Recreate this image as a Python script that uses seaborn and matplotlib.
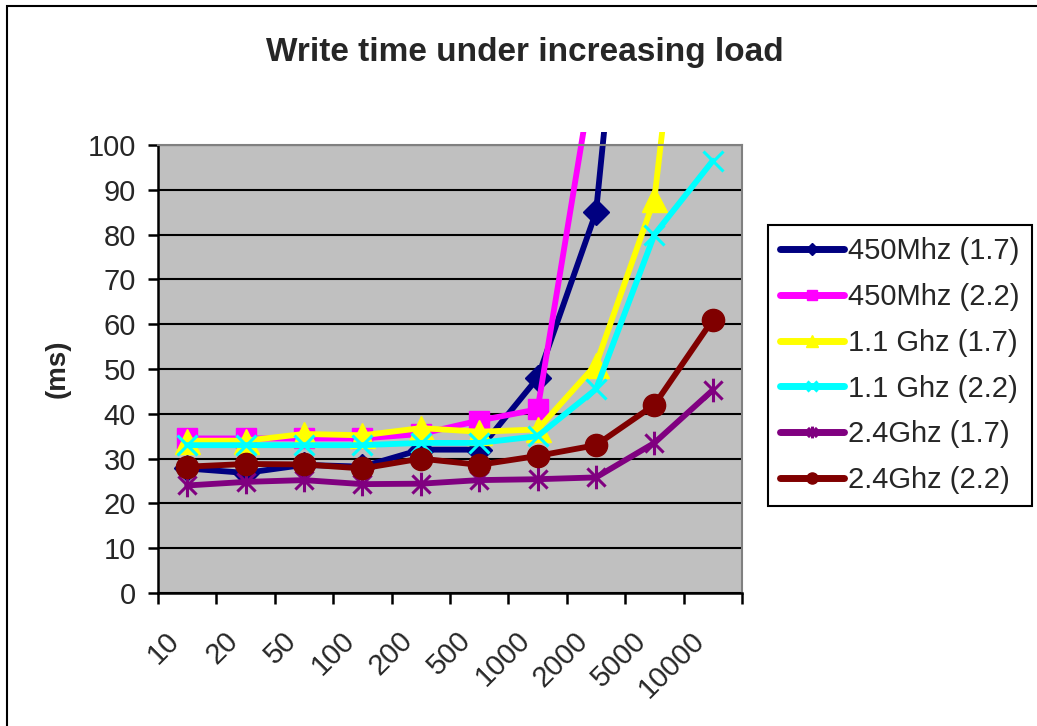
import numpy as np
import pandas as pd
import matplotlib
matplotlib.use("Agg")
import matplotlib.pyplot as plt
from matplotlib.path import Path
from matplotlib.patches import Rectangle
import seaborn as sns

# ---- data ----
categories = ["10", "20", "50", "100", "200", "500", "1000", "2000", "5000", "10000"]
series_names = ["450Mhz (1.7)", "450Mhz (2.2)", "1.1 Ghz (1.7)", "1.1 Ghz (2.2)", "2.4Ghz (1.7)", "2.4Ghz (2.2)"]
mhz450_17 = [27.8, 26.8, 28.6, 28.2, 32.0, 32.0, 48.0, 85.0, 215.0, np.nan]
mhz450_22 = [34.5, 34.5, 34.5, 34.5, 35.5, 38.5, 41.0, 120.0, np.nan, np.nan]
ghz11_17 = [34.0, 34.0, 35.5, 35.2, 36.8, 36.0, 36.5, 51.0, 88.0, 200.0]
ghz11_22 = [33.0, 33.0, 33.0, 33.0, 33.5, 33.5, 35.0, 45.5, 80.0, 96.5]
ghz24_17 = [24.0, 24.8, 25.2, 24.3, 24.4, 25.2, 25.4, 25.8, 33.5, 45.3]
ghz24_22 = [28.2, 28.8, 28.7, 27.8, 30.0, 28.6, 30.6, 33.0, 42.0, 61.0]
y_ticks = [0, 10, 20, 30, 40, 50, 60, 70, 80, 90, 100]

all_values = [mhz450_17, mhz450_22, ghz11_17, ghz11_22, ghz24_17, ghz24_22]
colors = ["#000080", "#FF00FF", "#FFFF00", "#00FFFF", "#800080", "#800000"]

# Excel-like asterisk marker: x plus vertical bar
star_path = Path([(-1, -1), (1, 1), (-1, 1), (1, -1), (0, -1.3), (0, 1.3)],
                 [Path.MOVETO, Path.LINETO, Path.MOVETO, Path.LINETO, Path.MOVETO, Path.LINETO])
markers = ["D", "s", "^", "x", star_path, "o"]
msizes = [13, 15, 18, 14, 17, 16]

sns.set_style("white")
plt.rcParams["font.family"] = ["Liberation Sans", "DejaVu Sans"]

fig = plt.figure(figsize=(10.37, 7.26), dpi=100)
W, H = 1037, 726
ax = fig.add_axes([158 / W, 1 - 593 / H, 584 / W, 448 / H])
ax.set_facecolor("#C0C0C0")

xpos = np.arange(len(categories))
clip_rect = Rectangle((0, 0), 1, 1.03, transform=ax.transAxes)

for name, vals, c, m, ms in zip(series_names, all_values, colors, markers, msizes):
    df = pd.DataFrame({"x": xpos, "y": vals}).dropna()
    sns.lineplot(data=df, x="x", y="y", ax=ax, color=c, linewidth=4.2, label=name,
                 marker=m, markersize=ms, markeredgecolor=c, markerfacecolor=c,
                 markeredgewidth=2.2 if (m == "x" or m is star_path) else 1,
                 estimator=None, sort=False)

for ln in ax.get_lines():
    ln.set_clip_path(clip_rect)

ax.set_xlim(-0.5, len(categories) - 0.5)
ax.set_ylim(0, 100)
ax.set_yticks(y_ticks)
ax.set_yticklabels([str(v) for v in y_ticks], fontsize=21)
ax.yaxis.grid(True, color="black", linewidth=1.5)
ax.xaxis.grid(False)
ax.set_axisbelow(True)

# x ticks at category boundaries; rotated labels anchored slightly left of centers (Excel style)
ax.set_xticks(np.arange(-0.5, len(categories), 1.0))
ax.set_xticklabels([])
ax.set_xticks(xpos - 0.38, minor=True)
ax.set_xticklabels(categories, minor=True, rotation=45, ha="right",
                   rotation_mode="anchor", fontsize=21)
ax.tick_params(axis="x", which="major", direction="out", length=8, width=1.8, color="black", bottom=True)
ax.tick_params(axis="x", which="minor", length=0, pad=24)
ax.tick_params(axis="y", direction="out", length=7, width=1.8, color="black", pad=9, left=True)

for s in ["left", "bottom"]:
    ax.spines[s].set_color("black")
    ax.spines[s].set_linewidth(1.8)
for s in ["top", "right"]:
    ax.spines[s].set_color("#808080")
    ax.spines[s].set_linewidth(1.5)

ax.set_xlabel("")
ax.set_ylabel("(ms)", fontsize=20, fontweight="bold", labelpad=12)

fig.text(525 / W, 1 - 53 / H, "Write time under increasing load", ha="center", va="center",
         fontsize=24, fontweight="bold")

handles, labels = ax.get_legend_handles_labels()
leg = ax.legend(handles, labels, loc="upper left", bbox_to_anchor=(768 / W, 1 - 225 / H),
                bbox_transform=fig.transFigure, fontsize=21, frameon=True, fancybox=False,
                edgecolor="black", framealpha=1, handlelength=2.2, handletextpad=0.12,
                labelspacing=0.61, borderpad=0.42, borderaxespad=0, markerscale=0.5)
leg.get_frame().set_linewidth(1.5)
for lh in leg.get_lines():
    lh.set_linewidth(5)

# outer chart border
fig.patches.append(Rectangle((7 / W, -0.05), 1.2, 1 - 6 / H + 0.05, transform=fig.transFigure,
                             fill=False, edgecolor="black", linewidth=1.5))

fig.savefig("out.png", dpi=100)
